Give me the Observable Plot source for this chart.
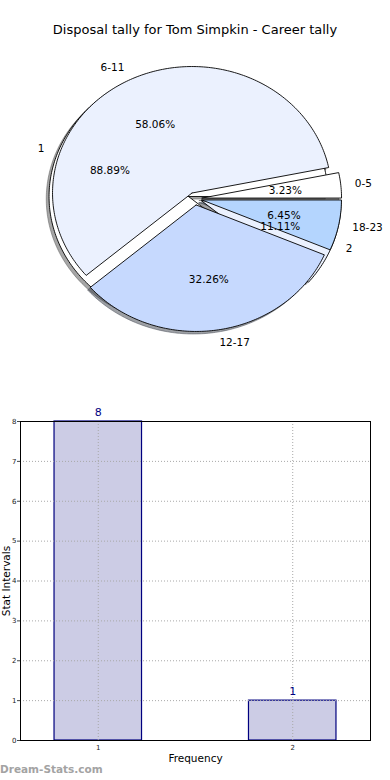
<!DOCTYPE html>
<html>
<head>
<meta charset="utf-8">
<script src="https://cdn.jsdelivr.net/npm/d3@7"></script>
<script src="https://cdn.jsdelivr.net/npm/@observablehq/plot@0.6"></script>
<style>
  html, body { margin: 0; padding: 0; background: #fff; }
  #root { position: relative; width: 390px; height: 780px; overflow: hidden; font-family: "DejaVu Sans", sans-serif; }
  #title { position: absolute; left: 0; top: 21px; width: 390px; text-align: center; font-size: 13px; line-height: 18px; color: #000; }
  #pie { position: absolute; left: 0; top: 0; }
  #bars { position: absolute; left: 0; top: 400px; }
  #ylabel { position: absolute; left: 6px; top: 581px; width: 0; height: 0; }
  #ylabel span { position: absolute; left: 0; top: 0; transform: translate(-50%, -50%) rotate(-90deg); white-space: nowrap; font-size: 10.5px; line-height: 12px; color: #000; }
  #mark { position: absolute; left: 0; top: 762px; font-size: 10.5px; font-weight: bold; color: #a3a3a3; line-height: 14px; }
</style>
</head>
<body>
<div id="root">
  <div id="pie"></div>
  <div id="title"></div>
  <div id="bars"></div>
  <div id="ylabel"><span></span></div>
  <div id="mark">Dream-Stats.com</div>
</div>
<script>
// ---- data ----
const chartTitle = "Disposal tally for Tom Simpkin - Career tally";
const intervalLabels = ["0-5", "6-11", "12-17", "18-23"];
const intervalCounts = [1, 18, 10, 2];
const frequencyLabels = ["1", "2"];
const frequencyCounts = [8, 1];
const wedgeColors = ["#ffffff", "#ebf1fe", "#c6d9fe", "#b4d5fe"];
const barPositions = [1, 2];
const barValues = [8, 1];
const yTicks = [0, 1, 2, 3, 4, 5, 6, 7, 8];
const xTicks = [1, 2];
const xAxisLabel = "Frequency";
const yAxisLabel = "Stat Intervals";

document.getElementById("title").textContent = chartTitle;
document.querySelector("#ylabel span").textContent = yAxisLabel;

// ---- pie geometry (matplotlib-like: start at 0°, counter-clockwise, exploded, shadowed) ----
const explode = 0.05, labelDistance = 1.1, pctDistance = 0.6, shadowOffset = 0.02;
function pieGeometry(values, labels, name) {
  const total = d3.sum(values);
  const wedges = [], shadows = [], texts = [];
  let cum = 0;
  values.forEach((v, i) => {
    const a1 = cum / total * 2 * Math.PI; cum += v;
    const a2 = cum / total * 2 * Math.PI;
    const am = (a1 + a2) / 2;
    const ox = explode * Math.cos(am), oy = explode * Math.sin(am);
    const id = name + i;
    const color = wedgeColors[i % wedgeColors.length];
    const c = d3.rgb(color);
    const shadowColor = d3.rgb(c.r * 0.3, c.g * 0.3, c.b * 0.3).formatHex();
    const n = Math.max(2, Math.ceil((a2 - a1) / (Math.PI / 180)));
    const ring = [[ox, oy]];
    for (let k = 0; k <= n; k++) {
      const a = a1 + (a2 - a1) * k / n;
      ring.push([ox + Math.cos(a), oy + Math.sin(a)]);
    }
    ring.push([ox, oy]);
    ring.forEach(([x, y]) => {
      wedges.push({id, x, y, color});
      shadows.push({id, x: x - shadowOffset, y: y - shadowOffset, color: shadowColor});
    });
    texts.push({
      label: labels[i],
      pct: (v / total * 100).toFixed(2) + "%",
      lx: ox + labelDistance * Math.cos(am), ly: oy + labelDistance * Math.sin(am),
      px: ox + pctDistance * Math.cos(am), py: oy + pctDistance * Math.sin(am)
    });
  });
  return {wedges, shadows, texts};
}
const pieA = pieGeometry(intervalCounts, intervalLabels, "a");
const pieB = pieGeometry(frequencyCounts, frequencyLabels, "b");

const cx = 194.6, cy = 198.2, rx = 139.5, ry = 126.5, pieW = 390, pieH = 380;
const fs = 10.5;
function labelMarks(p) {
  return [
    Plot.text(p.texts.filter(d => d.lx > 0), {x: "lx", y: "ly", text: "label", textAnchor: "start", fontSize: fs, fill: "#000"}),
    Plot.text(p.texts.filter(d => d.lx <= 0), {x: "lx", y: "ly", text: "label", textAnchor: "end", fontSize: fs, fill: "#000"}),
    Plot.text(p.texts, {x: "px", y: "py", text: "pct", textAnchor: "middle", fontSize: fs, fill: "#000"})
  ];
}
const pieChart = Plot.plot({
  width: pieW, height: pieH, margin: 0,
  x: {domain: [-cx / rx, (pieW - cx) / rx]},
  y: {domain: [-(pieH - cy) / ry, cy / ry]},
  color: {type: "identity"},
  axis: null,
  style: {fontFamily: "DejaVu Sans", background: "transparent", overflow: "visible"},
  marks: [
    Plot.line(pieB.shadows, {x: "x", y: "y", z: "id", fill: "color", stroke: "color", fillOpacity: 0.5, strokeOpacity: 0.5, strokeWidth: 0.9}),
    Plot.line(pieA.shadows, {x: "x", y: "y", z: "id", fill: "color", stroke: "color", fillOpacity: 0.5, strokeOpacity: 0.5, strokeWidth: 0.9}),
    Plot.line(pieB.wedges, {x: "x", y: "y", z: "id", fill: "color", stroke: "#000", strokeWidth: 0.9, strokeLinejoin: "miter"}),
    Plot.line(pieA.wedges, {x: "x", y: "y", z: "id", fill: "color", stroke: "#000", strokeWidth: 0.9, strokeLinejoin: "miter"}),
    ...labelMarks(pieB),
    ...labelMarks(pieA)
  ]
});
document.getElementById("pie").appendChild(pieChart);

// ---- bar chart ----
const bars = barPositions.map((x, i) => ({x, value: barValues[i]}));
const barWidth = 0.45;
const barChart = Plot.plot({
  width: 390, height: 380,
  marginTop: 21, marginBottom: 40, marginLeft: 20, marginRight: 20,
  x: {domain: [0.6, 2.4]},
  y: {domain: [0, 8]},
  style: {fontFamily: "DejaVu Sans", background: "transparent", overflow: "visible"},
  marks: [
    Plot.rectY(bars, {x1: d => d.x - barWidth / 2, x2: d => d.x + barWidth / 2, y1: 0, y2: "value", fill: "#ccccE5", stroke: "#00007f", strokeWidth: 1.2}),
    Plot.gridY({ticks: yTicks, stroke: "#a8a8a8", strokeOpacity: 1, strokeWidth: 1, strokeDasharray: "1,2"}),
    Plot.gridX({ticks: xTicks, stroke: "#a8a8a8", strokeOpacity: 1, strokeWidth: 1, strokeDasharray: "1,2"}),
    Plot.frame({stroke: "#000", strokeWidth: 1}),
    Plot.axisY({ticks: yTicks, tickSize: 3, tickPadding: 1, fontSize: 7, label: null, tickFormat: d => String(d), stroke: "#444", fill: "#222"}),
    Plot.axisX({ticks: xTicks, tickSize: 0, tickPadding: 5, fontSize: 7, label: null, tickFormat: d => String(d), fill: "#222"}),
    Plot.text(bars, {x: "x", y: "value", text: d => String(d.value), dy: -9, fill: "#00007f", fontSize: 11}),
    Plot.text([xAxisLabel], {frameAnchor: "bottom", dy: 21, fontSize: 10.5, fill: "#000"})
  ]
});
document.getElementById("bars").appendChild(barChart);
</script>
</body>
</html>
